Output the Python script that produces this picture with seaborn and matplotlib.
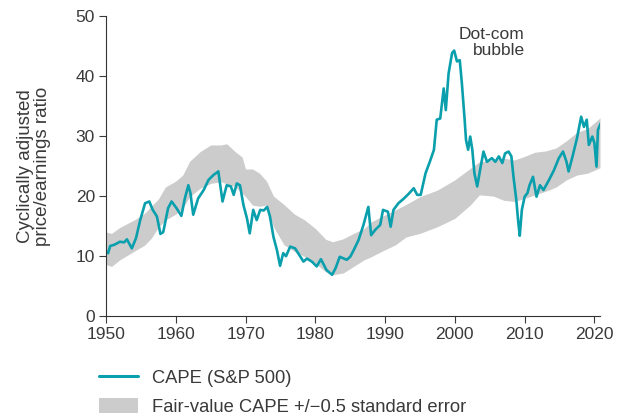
import matplotlib
matplotlib.use("Agg")
import matplotlib.pyplot as plt
import seaborn as sns
import pandas as pd
from matplotlib.lines import Line2D
from matplotlib.patches import Patch

# CAPE (S&P 500), read as (decimal year, ratio)
cape_year = [
    1950.0, 1950.3, 1950.6, 1951.2, 1952.0, 1952.6, 1953.0, 1953.7, 1954.3, 1954.9,
    1955.6, 1956.2, 1956.7, 1957.3, 1957.8, 1958.2, 1958.9, 1959.4, 1960.1, 1960.8,
    1961.3, 1961.8, 1962.1, 1962.5, 1963.2, 1964.0, 1964.7, 1965.4, 1966.1, 1966.7,
    1967.3, 1967.9, 1968.3, 1968.75, 1969.2, 1969.7, 1970.2, 1970.6, 1971.1, 1971.6,
    1972.1, 1972.6, 1973.1, 1973.5, 1974.0, 1974.5, 1974.95, 1975.4, 1975.8, 1976.4,
    1977.1, 1977.8, 1978.3, 1978.8, 1979.5, 1980.2, 1980.8, 1981.6, 1982.4, 1982.9,
    1983.5, 1984.1, 1984.5, 1985.0, 1985.5, 1986.2, 1986.9, 1987.6, 1988.0, 1988.6,
    1989.3, 1989.7, 1990.4, 1990.8, 1991.2, 1991.9, 1992.7, 1993.4, 1994.1, 1994.6,
    1995.1, 1995.8, 1996.5, 1997.0, 1997.4, 1997.9, 1998.4, 1998.7, 1999.1, 1999.6,
    1999.9, 2000.3, 2000.7, 2001.0, 2001.4, 2001.6, 2001.9, 2002.2, 2002.5, 2002.8,
    2003.2, 2003.7, 2004.1, 2004.6, 2005.3, 2005.8, 2006.3, 2006.8, 2007.2, 2007.7,
    2008.1, 2008.4, 2008.8, 2009.1, 2009.3, 2009.6, 2010.0, 2010.4, 2010.7, 2011.2,
    2011.7, 2012.2, 2012.7, 2013.5, 2014.2, 2014.9, 2015.5, 2016.0, 2016.3, 2016.8,
    2017.5, 2018.1, 2018.5, 2018.9, 2019.2, 2019.7, 2020.0, 2020.3, 2020.5, 2020.9,
]
cape_value = [
    10.8, 10.5, 11.7, 11.9, 12.4, 12.3, 12.8, 11.3, 13.0, 16.0,
    18.8, 19.1, 17.7, 16.6, 13.7, 14.0, 18.0, 19.1, 18.0, 16.7,
    19.6, 21.8, 20.5, 16.9, 19.6, 21.0, 22.7, 23.5, 24.1, 19.1,
    21.8, 21.6, 20.2, 22.1, 21.8, 18.5, 16.3, 13.8, 17.7, 16.0,
    17.7, 17.6, 18.2, 16.6, 13.2, 11.0, 8.4, 10.5, 10.0, 11.6,
    11.3, 10.0, 9.1, 9.6, 9.1, 8.3, 9.5, 7.7, 6.9, 8.0,
    9.9, 9.6, 9.4, 9.9, 11.0, 12.7, 15.2, 18.2, 13.5, 14.4,
    15.2, 17.7, 17.4, 14.9, 17.7, 18.8, 19.6, 20.4, 21.3, 20.2,
    20.2, 23.8, 26.0, 27.7, 32.7, 32.9, 37.9, 34.3, 40.4, 43.8,
    44.2, 42.4, 42.6, 38.8, 32.7, 29.3, 27.7, 29.9, 27.7, 23.8,
    21.6, 24.9, 27.4, 25.7, 26.3, 25.7, 26.6, 25.5, 27.1, 27.4,
    26.6, 23.2, 19.4, 15.5, 13.4, 17.7, 19.9, 20.5, 21.8, 23.2,
    19.9, 21.8, 21.0, 22.7, 24.3, 26.3, 27.4, 25.7, 24.1, 26.3,
    29.6, 33.2, 31.5, 32.7, 28.5, 29.9, 28.8, 24.9, 31.0, 32.1,
]

# Fair-value CAPE band (+/- 0.5 standard error)
band_year = [
    1950.0, 1950.8, 1952.0, 1954.0, 1955.5, 1956.5, 1957.5, 1958.5, 1960.0, 1961.0,
    1962.0, 1963.5, 1965.0, 1966.5, 1967.3, 1968.5, 1969.5, 1970.0, 1971.0, 1972.0,
    1973.0, 1974.0, 1975.5, 1977.0, 1978.5, 1980.0, 1981.5, 1982.5, 1984.0, 1985.5,
    1987.0, 1988.0, 1989.5, 1991.5, 1993.0, 1995.0, 1997.5, 2000.0, 2002.2, 2003.5,
    2005.5, 2007.0, 2008.5, 2010.0, 2011.5, 2013.0, 2014.5, 2016.0, 2017.5, 2019.0,
    2020.8,
]
band_low = [
    8.6, 8.3, 9.4, 10.8, 11.8, 13.0, 14.8, 16.0, 17.0, 18.0,
    19.9, 21.3, 22.1, 22.4, 22.0, 21.6, 20.5, 19.9, 18.5, 18.3,
    18.5, 14.9, 11.9, 10.8, 9.9, 8.8, 7.4, 6.9, 7.2, 8.3,
    9.4, 9.9, 10.8, 11.9, 13.2, 13.8, 14.9, 16.3, 18.5, 20.2,
    20.0, 19.3, 19.1, 19.6, 20.2, 20.8, 21.5, 22.7, 23.5, 23.8,
    24.7,
]
band_high = [
    14.0, 13.8, 14.8, 16.0, 17.1, 18.3, 19.5, 21.5, 22.5, 23.5,
    25.8, 27.4, 28.5, 28.5, 28.7, 27.4, 26.5, 24.5, 24.5, 23.8,
    22.5, 20.0, 18.6, 17.0, 16.0, 14.6, 12.8, 12.4, 12.9, 13.8,
    14.6, 15.7, 16.6, 17.7, 18.6, 19.9, 21.0, 22.7, 24.6, 25.7,
    26.0, 26.3, 26.0, 26.6, 27.3, 27.5, 28.0, 29.2, 30.6, 31.2,
    33.0,
]

x_ticks = [1950, 1960, 1970, 1980, 1990, 2000, 2010, 2020]
y_ticks = [0, 10, 20, 30, 40, 50]

TEAL = "#0a9fad"
GREY_BAND = "#cccccc"
TEXT = "#3a3a3a"
FS = 12.5

sns.set_theme(style="ticks")
plt.rcParams["font.family"] = ["Liberation Sans", "DejaVu Sans"]

cape = pd.DataFrame({"year": cape_year, "cape": cape_value})

fig = plt.figure(figsize=(6.17, 4.17), dpi=100)
ax = fig.add_axes([106 / 617, 1 - 316.3 / 417, (600 - 106) / 617, (316.3 - 15.7) / 417])

ax.fill_between(band_year, band_low, band_high, color=GREY_BAND, linewidth=0, zorder=1)
sns.lineplot(data=cape, x="year", y="cape", ax=ax, color=TEAL, linewidth=1.9,
             estimator=None, sort=False, zorder=2)

ax.set_xlim(1950, 2020.8)
ax.set_ylim(0, 50)
ax.set_xticks(x_ticks)
ax.set_yticks(y_ticks)
ax.set_xlabel("")
ax.set_ylabel("Cyclically adjusted\nprice/earnings ratio", fontsize=13.5, color=TEXT,
              labelpad=18, linespacing=1.0)
ax.tick_params(axis="both", labelsize=FS, colors=TEXT, length=5, width=0.8, pad=3)
for side in ("top", "right"):
    ax.spines[side].set_visible(False)
for side in ("left", "bottom"):
    ax.spines[side].set_color("#333333")
    ax.spines[side].set_linewidth(0.8)

ax.text(2010.0, 48.1, "Dot-com\nbubble", ha="right", va="top", fontsize=FS,
        color=TEXT, linespacing=1.05)

handles = [
    Line2D([0], [0], color=TEAL, linewidth=2.2),
    Patch(facecolor=GREY_BAND, edgecolor="none"),
]
fig.legend(handles, ["CAPE (S&P 500)", "Fair-value CAPE +/\u22120.5 standard error"],
           loc="upper left", bbox_to_anchor=(99 / 617, 1 - 369 / 417), frameon=False,
           fontsize=13.2, labelcolor=TEXT, handlelength=2.1, handleheight=0.85,
           handletextpad=0.8, labelspacing=0.62, borderaxespad=0, borderpad=0)

fig.savefig("out.png", dpi=100)
